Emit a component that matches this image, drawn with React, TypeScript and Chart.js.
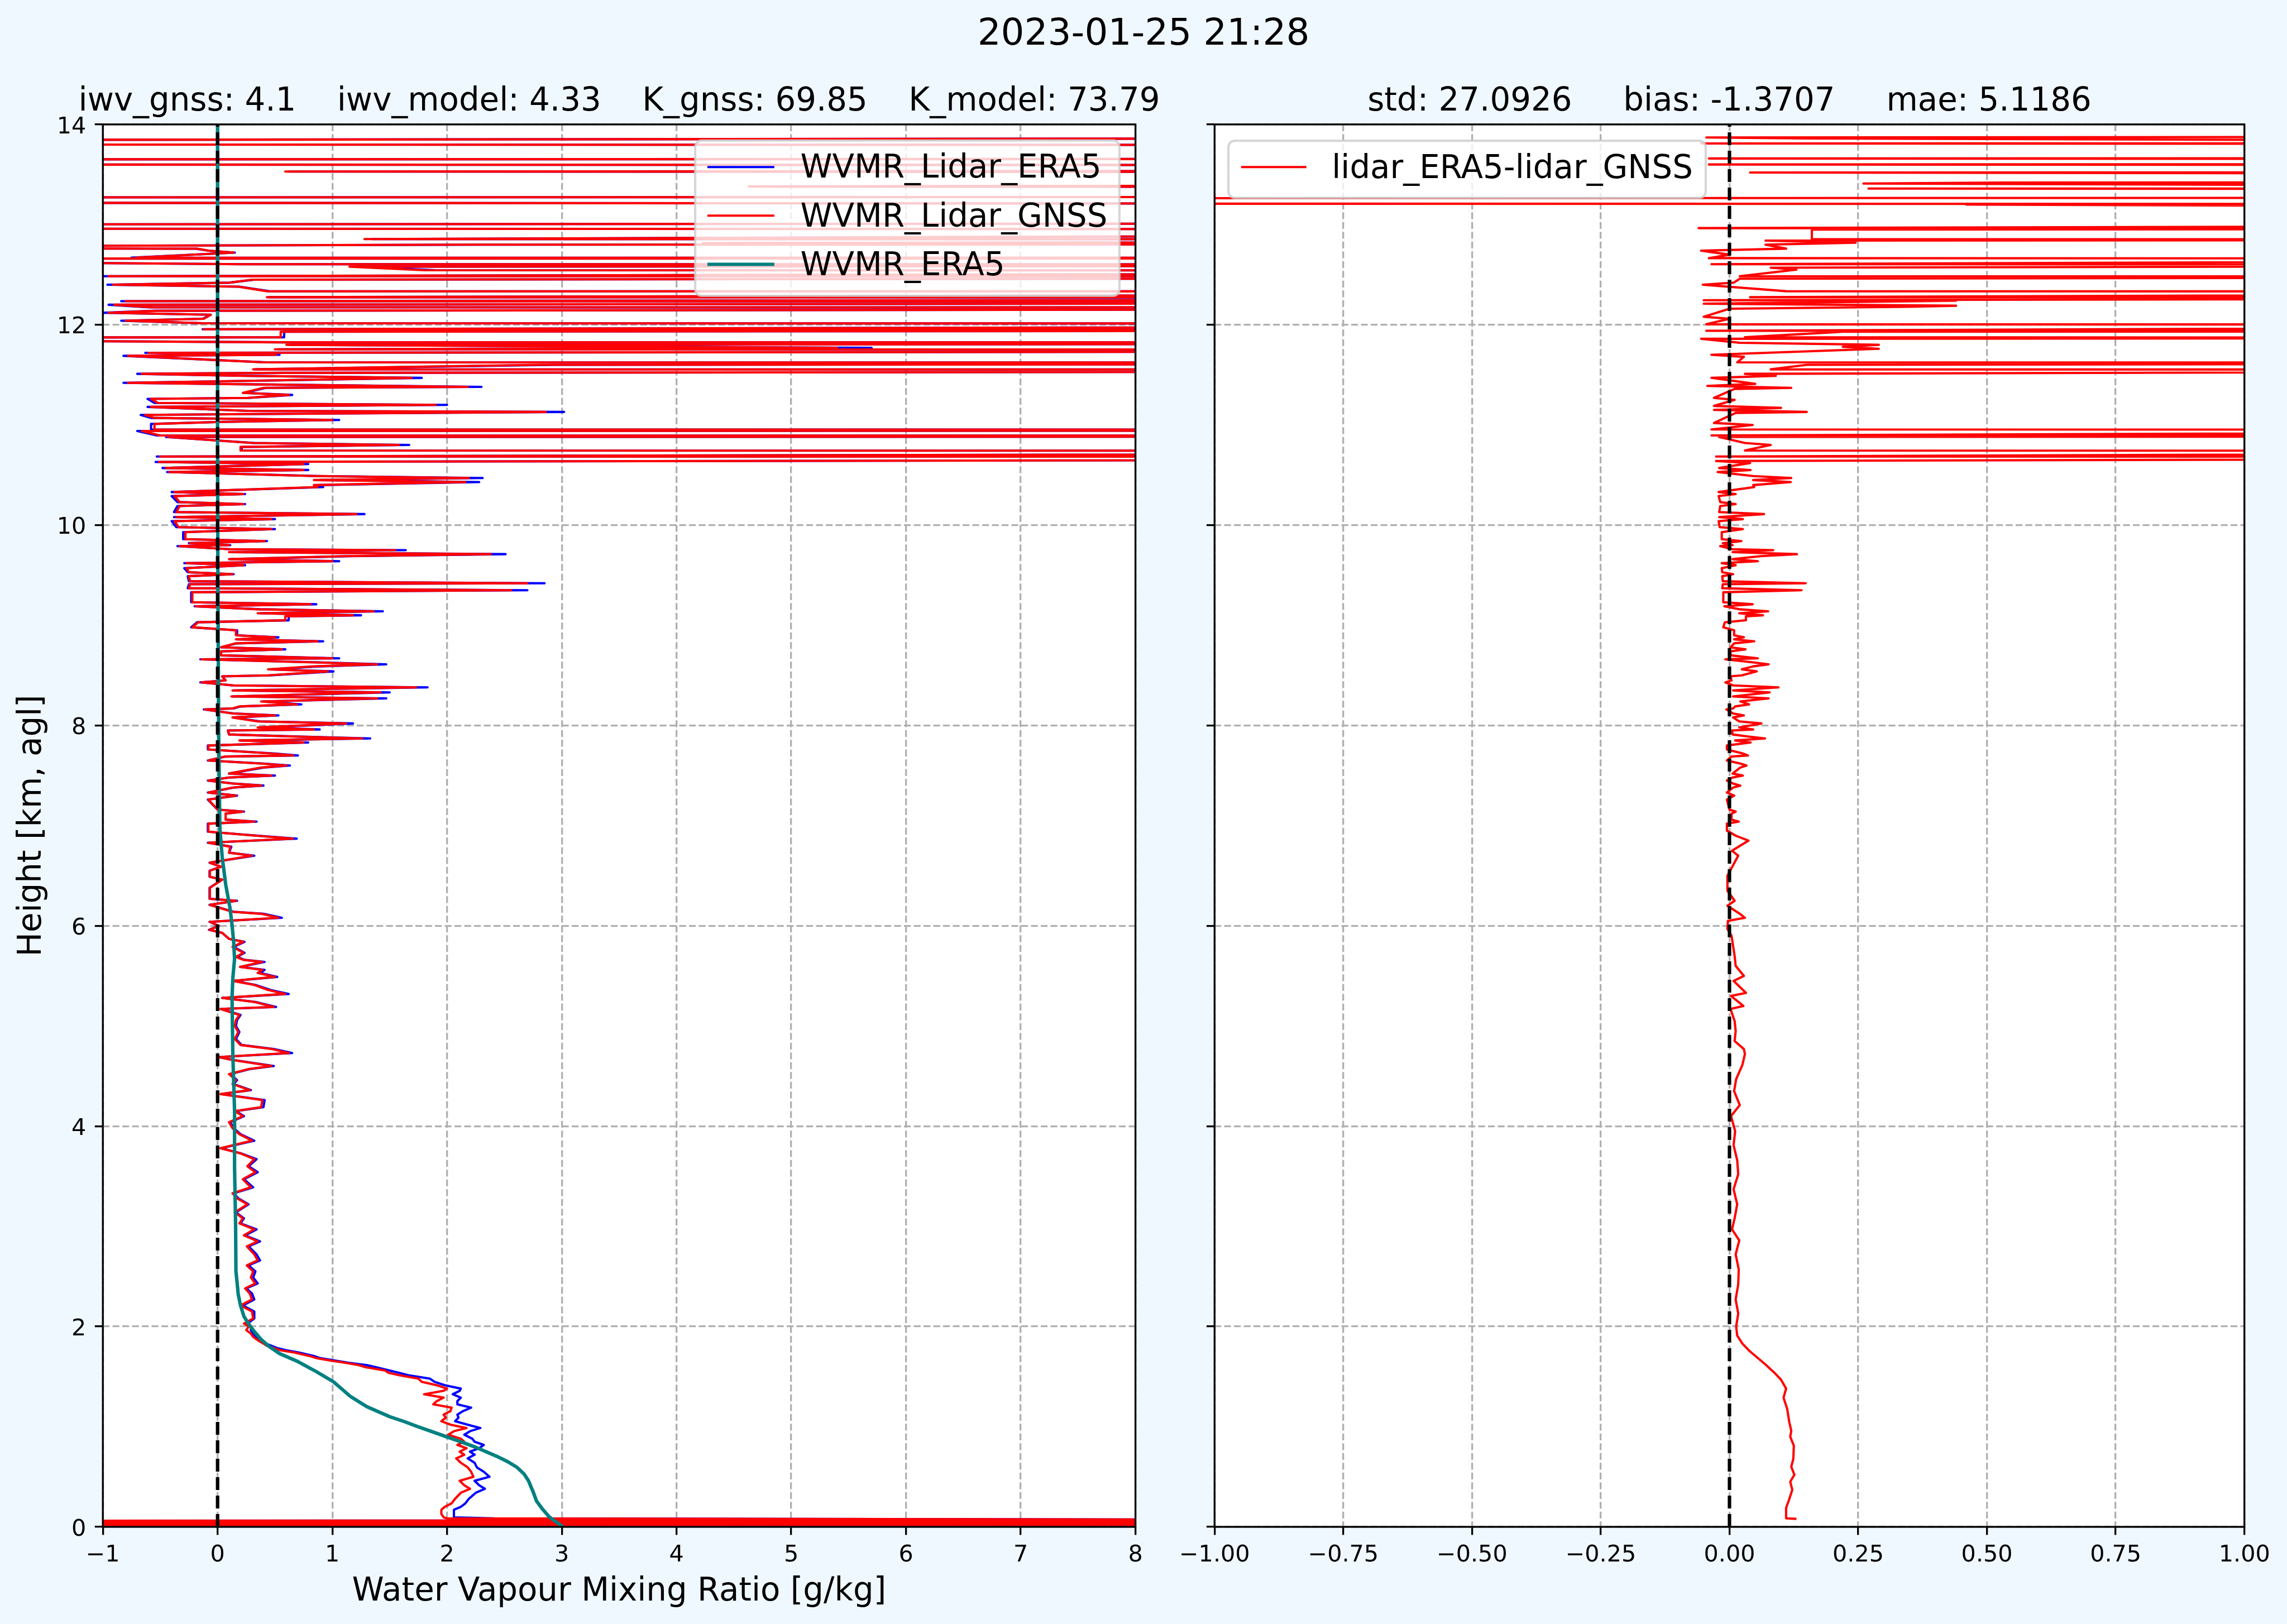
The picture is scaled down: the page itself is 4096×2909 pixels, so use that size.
import React, { useEffect, useRef } from "react";
import { Chart, registerables } from "chart.js";

Chart.register(...registerables);

const FONT = '"DejaVu Sans", sans-serif';

// ---------------- data: [height km, value] ----------------
const wvmrLidarEra5 = [
  [0.015,-4],[0.022,14],[0.03,-5],[0.037,12],[0.045,-3],[0.052,16],[0.06,-2],[0.068,11],[0.085,2.41],
  [0.095,2.06],[0.13,2.06],[0.17,2.06],[0.2,2.12],[0.235,2.16],[0.28,2.19],[0.34,2.25],[0.38,2.33],[0.415,2.28],[0.46,2.24],[0.5,2.37],[0.55,2.32],[0.594,2.26],[0.64,2.24],[0.684,2.18],[0.72,2.24],[0.751,2.2],[0.785,2.28],[0.818,2.32],[0.85,2.24],[0.88,2.22],[0.92,2.15],[0.955,2.2],[0.987,2.29],[1.02,2.18],[1.055,2.07],[1.09,2.1],[1.12,2.09],[1.156,2.14],[1.19,2.21],[1.223,2.09],[1.255,2.09],[1.29,2.12],[1.324,2.05],[1.358,2.11],[1.38,2.12],[1.414,1.98],[1.448,1.89],[1.48,1.85],[1.515,1.66],[1.538,1.58],[1.56,1.5],[1.594,1.38],[1.615,1.3],[1.638,1.14],[1.661,1.02],[1.685,0.89],[1.706,0.84],[1.74,0.71],[1.762,0.6],[1.785,0.52],[1.807,0.47],[1.83,0.42],[1.863,0.38],[1.897,0.33],[1.93,0.31],[1.964,0.29],[2.0,0.29],[2.03,0.26],[2.08,0.32],
  [2.15,0.32],[2.21,0.22],[2.27,0.32],[2.33,0.3],[2.38,0.25],[2.43,0.35],[2.49,0.31],[2.55,0.33],
  [2.61,0.27],[2.66,0.37],[2.72,0.34],[2.8,0.27],[2.85,0.37],[2.91,0.24],[2.97,0.34],[3.03,0.2],[3.08,0.23],[3.14,0.16],[3.22,0.27],[3.28,0.18],[3.33,0.14],[3.39,0.31],[3.47,0.23],[3.54,0.35],[3.6,0.27],[3.67,0.34],[3.73,0.2],[3.78,0.03],[3.855,0.32],[3.92,0.2],[3.98,0.14],[4.04,0.11],[4.1,0.23],[4.15,0.16],[4.19,0.4],[4.26,0.41],[4.32,0.03],[4.36,0.29],[4.42,0.14],[4.46,0.17],[4.52,0.11],[4.57,0.28],[4.6,0.49],[4.66,0.14],[4.69,0.01],[4.73,0.65],[4.77,0.49],[4.81,0.21],[4.87,0.16],[4.94,0.19],[5.0,0.16],[5.06,0.17],[5.11,0.2],[5.17,0.03],[5.19,0.51],[5.24,0.33],[5.28,0.04],[5.32,0.62],[5.36,0.46],[5.41,0.33],[5.45,0.14],[5.49,0.52],[5.53,0.37],[5.56,0.41],[5.59,0.2],[5.64,0.41],[5.66,0.235],[5.69,0.17],[5.73,0.235],[5.79,0.14],[5.84,0.235],[5.87,0.1],[5.93,0.04],[5.96,-0.075],[6.0,0.01],[6.04,-0.07],[6.08,0.56],[6.12,0.4],[6.14,0.14],[6.21,-0.07],[6.25,0.17],[6.27,-0.07],[6.38,-0.07],[6.46,0.04],[6.49,-0.07],[6.55,-0.07],[6.59,0.03],[6.63,-0.07],[6.7,0.32],[6.73,0.1],[6.79,0.12],[6.83,-0.085],[6.87,0.69],[6.91,0.23],[6.94,-0.085],
  [7.02,-0.085],[7.04,0.34],[7.06,0.07],[7.12,0.07],[7.14,0.23],[7.16,0.0],[7.26,-0.085],[7.3,0.17],[7.33,-0.085],[7.38,0.14],[7.4,0.4],[7.42,0.14],[7.45,-0.085],[7.48,0.1],[7.5,0.5],[7.52,0.1],[7.58,0.4],[7.6,0.63],[7.62,0.4],[7.65,-0.085],[7.69,0.07],[7.7,0.7],[7.72,0.5],[7.76,-0.085],[7.8,-0.085],[7.83,0.79],[7.85,0.2],[7.87,1.33],[7.89,0.7],[7.91,0.1],[7.95,0.09],[7.96,0.89],[7.98,0.37],[8.02,1.18],[8.04,0.37],[8.08,0.14],[8.1,0.53],[8.12,0.14],[8.16,-0.12],[8.17,0.14],[8.19,0.2],[8.21,0.73],[8.24,0.4],[8.27,1.47],[8.29,0.13],[8.33,1.5],[8.35,0.14],[8.38,1.83],[8.4,0.14],[8.43,-0.15],[8.45,0.07],[8.49,0.04],[8.5,0.46],[8.54,1.01],[8.56,0.46],[8.59,0.89],[8.61,1.47],[8.63,0.89],[8.66,-0.15],[8.67,1.06],[8.7,0.03],[8.74,0.03],[8.76,0.59],[8.78,0.03],[8.82,0.17],[8.84,0.92],[8.86,0.17],[8.88,0.53],[8.9,0.17],[8.95,0.17],[8.98,-0.23],[9.03,-0.18],[9.05,0.62],[9.09,0.62],[9.1,1.25],[9.12,0.37],[9.14,1.44],[9.16,0.37],[9.19,-0.2],[9.21,0.86],[9.23,-0.23],[9.33,-0.23],[9.35,2.7],[9.37,-0.26],[9.41,-0.25],[9.42,2.85],[9.44,-0.25],[9.49,-0.26],[9.51,0.14],[9.53,-0.26],[9.57,-0.29],[9.6,0.24],[9.62,-0.29],[9.64,1.06],[9.66,0.11],[9.69,1.16],[9.71,2.51],[9.73,0.11],[9.75,1.64],[9.76,0.11],[9.79,-0.35],[9.8,0.11],[9.82,-0.25],[9.84,0.43],[9.86,-0.3],[9.93,-0.3],[9.96,0.5],[9.98,-0.36],[10.04,-0.4],[10.06,0.5],[10.08,-0.38],[10.11,1.28],[10.13,-0.38],[10.19,-0.35],[10.21,0.24],[10.23,-0.35],[10.29,-0.4],[10.31,0.24],[10.33,-0.4],[10.38,0.92],[10.4,0.89],[10.43,2.28],[10.45,0.89],[10.47,2.31],[10.49,0.89],[10.53,-0.44],[10.55,0.79],[10.57,-0.48],[10.61,0.79],[10.63,-0.54],[10.68,25],[10.685,-0.53],[10.74,25],[10.745,0.21],[10.78,0.21],[10.8,1.67],[10.82,0.32],[10.88,-0.45],[10.89,25],[10.895,-0.53],[10.94,-0.7],[10.95,25],[10.955,-0.58],
  [11.01,-0.58],[11.03,0.03],[11.05,1.06],[11.07,-0.58],[11.1,-0.67],[11.11,0.42],[11.13,3.02],[11.14,0.27],[11.18,-0.61],[11.2,2.0],[11.22,-0.55],[11.26,-0.61],[11.27,0.27],[11.3,0.65],[11.32,0.23],[11.37,0.42],[11.38,2.3],[11.4,0.69],[11.42,-0.82],[11.44,0.26],[11.47,1.78],[11.49,0.26],[11.51,-0.7],[11.52,0.58],[11.55,25],[11.555,0.33],[11.6,2.95],[11.62,25],[11.625,0.42],[11.69,-0.82],[11.7,0.54],[11.72,-0.63],[11.75,25],[11.755,0.53],[11.77,5.7],[11.8,0.63],[11.82,25],[11.825,0.58],[11.87,-6],[11.875,0.58],[11.93,0.58],[11.935,4.1],[11.945,25],[11.955,-0.13],[12.01,25],[12.015,-0.13],[12.04,-0.84],[12.06,-0.13],[12.1,-0.06],[12.12,-1.0],[12.14,-0.55],[12.17,25],[12.175,-0.6],[12.2,-0.95],[12.23,25],[12.235,-0.84],[12.27,25],[12.275,0.45],[12.33,25],[12.335,0.45],[12.38,0.19],[12.4,-0.96],[12.42,0.1],[12.45,0.32],[12.48,25],[12.485,-1.0],[12.54,25],[12.545,1.9],[12.58,1.22],[12.6,25],[12.605,0.21],[12.66,-6],[12.665,25],[12.67,-0.75],[12.72,0.15],[12.74,-0.08],[12.76,-0.19],[12.77,-6],[12.8,2.28],[12.81,25],[12.815,4.45],[12.85,25],[12.855,1.35],[12.95,25],[12.96,-6],[13.0,-6],[13.02,25],[13.2,25],[13.22,-6],[13.27,-6],[13.28,25],[13.37,25],[13.38,4.85],[13.42,25],[13.52,25],[13.53,0.62],[13.54,25],[13.59,25],[13.6,-6],[13.65,-6],[13.66,25],[13.79,25],[13.8,-6],[13.84,-6],[13.88,25],[14.2,25],
];

const wvmrLidarGnss = [
  [0.015,-4],[0.022,14],[0.03,-5],[0.037,12],[0.045,-3],[0.052,16],[0.06,-2],[0.068,11],[0.085,2.0],
  [0.095,1.97],[0.13,1.95],[0.17,1.95],[0.2,1.98],[0.235,2.04],[0.28,2.07],[0.34,2.12],[0.38,2.2],[0.415,2.15],[0.46,2.11],[0.5,2.23],[0.55,2.21],[0.594,2.18],[0.64,2.12],[0.684,2.08],[0.72,2.15],[0.751,2.11],[0.785,2.17],[0.818,2.09],[0.85,2.15],[0.88,2.12],[0.92,2.01],[0.955,2.06],[0.987,2.17],[1.02,2.03],[1.055,1.95],[1.09,1.99],[1.12,1.97],[1.156,2.03],[1.19,2.04],[1.223,1.88],[1.255,1.91],[1.29,1.97],[1.324,1.8],[1.358,1.97],[1.38,2.0],[1.414,1.91],[1.448,1.78],[1.48,1.75],[1.515,1.58],[1.538,1.49],[1.56,1.46],[1.594,1.29],[1.615,1.23],[1.638,1.11],[1.661,0.98],[1.685,0.86],[1.706,0.8],[1.74,0.67],[1.762,0.55],[1.785,0.49],[1.807,0.43],[1.83,0.4],[1.863,0.35],[1.897,0.31],[1.93,0.29],[1.964,0.25],[2.0,0.27],[2.03,0.23],[2.08,0.31],
  [2.15,0.3],[2.21,0.2],[2.27,0.3],[2.33,0.28],[2.38,0.24],[2.43,0.33],[2.49,0.29],[2.55,0.31],
  [2.61,0.255],[2.66,0.35],[2.72,0.32],[2.8,0.255],[2.85,0.35],[2.91,0.23],[2.97,0.32],[3.03,0.19],[3.08,0.22],[3.14,0.15],[3.22,0.26],[3.28,0.17],[3.33,0.13],[3.39,0.29],[3.47,0.22],[3.54,0.33],[3.6,0.26],[3.67,0.32],[3.73,0.195],[3.78,0.025],[3.855,0.3],[3.92,0.19],[3.98,0.13],[4.04,0.1],[4.1,0.22],[4.15,0.15],[4.19,0.38],[4.26,0.39],[4.32,0.025],[4.36,0.28],[4.42,0.13],[4.46,0.16],[4.52,0.1],[4.57,0.27],[4.6,0.47],[4.66,0.13],[4.69,0.01],[4.73,0.62],[4.77,0.47],[4.81,0.2],[4.87,0.15],[4.94,0.18],[5.0,0.15],[5.06,0.16],[5.11,0.19],[5.17,0.025],[5.19,0.49],[5.24,0.32],[5.28,0.04],[5.32,0.59],[5.36,0.44],[5.41,0.32],[5.45,0.13],[5.49,0.5],[5.53,0.35],[5.56,0.39],[5.59,0.195],[5.64,0.39],[5.66,0.225],[5.69,0.16],[5.73,0.225],[5.79,0.13],[5.84,0.225],[5.87,0.1],[5.93,0.04],[5.96,-0.07],[6.0,0.01],[6.04,-0.067],[6.08,0.53],[6.12,0.38],[6.14,0.13],[6.21,-0.067],[6.25,0.16],[6.27,-0.067],[6.38,-0.067],[6.46,0.04],[6.49,-0.067],[6.55,-0.067],[6.59,0.03],[6.63,-0.067],[6.7,0.3],[6.73,0.1],[6.79,0.11],[6.83,-0.08],[6.87,0.655],[6.91,0.22],[6.94,-0.08],
  [7.02,-0.08],[7.04,0.32],[7.06,0.07],[7.12,0.07],[7.14,0.22],[7.16,0.0],[7.26,-0.08],[7.3,0.16],[7.33,-0.08],[7.38,0.13],[7.4,0.38],[7.42,0.13],[7.45,-0.08],[7.48,0.1],[7.5,0.47],[7.52,0.1],[7.58,0.38],[7.6,0.6],[7.62,0.38],[7.65,-0.08],[7.69,0.07],[7.7,0.66],[7.72,0.47],[7.76,-0.08],[7.8,-0.08],[7.83,0.75],[7.85,0.19],[7.87,1.26],[7.89,0.66],[7.91,0.1],[7.95,0.09],[7.96,0.84],[7.98,0.35],[8.02,1.12],[8.04,0.35],[8.08,0.13],[8.1,0.5],[8.12,0.13],[8.16,-0.11],[8.17,0.13],[8.19,0.19],[8.21,0.69],[8.24,0.38],[8.27,1.39],[8.29,0.12],[8.33,1.42],[8.35,0.13],[8.38,1.73],[8.4,0.13],[8.43,-0.14],[8.45,0.07],[8.49,0.04],[8.5,0.44],[8.54,0.96],[8.56,0.44],[8.59,0.84],[8.61,1.39],[8.63,0.84],[8.66,-0.14],[8.67,1.0],[8.7,0.03],[8.74,0.03],[8.76,0.56],[8.78,0.03],[8.82,0.16],[8.84,0.87],[8.86,0.16],[8.88,0.5],[8.9,0.16],[8.95,0.16],[8.98,-0.22],[9.03,-0.17],[9.05,0.59],[9.09,0.59],[9.1,1.18],[9.12,0.35],[9.14,1.36],[9.16,0.35],[9.19,-0.19],[9.21,0.81],[9.23,-0.22],[9.33,-0.22],[9.35,2.56],[9.37,-0.25],[9.41,-0.24],[9.42,2.7],[9.44,-0.24],[9.49,-0.25],[9.51,0.13],[9.53,-0.25],[9.57,-0.27],[9.6,0.225],[9.62,-0.27],[9.64,1.0],[9.66,0.1],[9.69,1.1],[9.71,2.38],[9.73,0.1],[9.75,1.55],[9.76,0.1],[9.79,-0.33],[9.8,0.1],[9.82,-0.24],[9.84,0.41],[9.86,-0.28],[9.93,-0.28],[9.96,0.47],[9.98,-0.34],[10.04,-0.375],[10.06,0.47],[10.08,-0.36],[10.11,1.21],[10.13,-0.36],[10.19,-0.33],[10.21,0.225],[10.23,-0.33],[10.29,-0.375],[10.31,0.225],[10.33,-0.375],[10.38,0.87],[10.4,0.84],[10.43,2.16],[10.45,0.84],[10.47,2.19],[10.49,0.84],[10.53,-0.42],[10.55,0.75],[10.57,-0.45],[10.61,0.75],[10.63,-0.51],[10.68,25],[10.685,-0.5],[10.74,25],[10.745,0.2],[10.78,0.2],[10.8,1.58],[10.82,0.3],[10.88,-0.43],[10.89,25],[10.895,-0.5],[10.94,-0.66],[10.95,25],[10.955,-0.55],
  [11.01,-0.55],[11.03,0.03],[11.05,1.0],[11.07,-0.55],[11.1,-0.63],[11.11,0.4],[11.13,2.86],[11.14,0.26],[11.18,-0.58],[11.2,1.9],[11.22,-0.52],[11.26,-0.58],[11.27,0.26],[11.3,0.62],[11.32,0.22],[11.37,0.4],[11.38,2.18],[11.4,0.65],[11.42,-0.78],[11.44,0.25],[11.47,1.69],[11.49,0.25],[11.51,-0.66],[11.52,0.55],[11.55,25],[11.555,0.31],[11.6,2.8],[11.62,25],[11.625,0.4],[11.69,-0.78],[11.7,0.51],[11.72,-0.6],[11.75,25],[11.755,0.5],[11.77,5.4],[11.8,0.6],[11.82,25],[11.825,0.55],[11.87,-6],[11.875,0.55],[11.93,0.55],[11.935,3.9],[11.945,25],[11.955,-0.12],[12.01,25],[12.015,-0.12],[12.04,-0.8],[12.06,-0.12],[12.1,-0.06],[12.12,-0.95],[12.14,-0.52],[12.17,25],[12.175,-0.57],[12.2,-0.9],[12.23,25],[12.235,-0.8],[12.27,25],[12.275,0.43],[12.33,25],[12.335,0.43],[12.38,0.18],[12.4,-0.91],[12.42,0.1],[12.45,0.3],[12.48,25],[12.485,-0.95],[12.54,25],[12.545,1.8],[12.58,1.15],[12.6,25],[12.605,0.2],[12.66,-6],[12.665,25],[12.67,-0.71],[12.72,0.14],[12.74,-0.08],[12.76,-0.18],[12.77,-6],[12.8,2.15],[12.81,25],[12.815,4.23],[12.85,25],[12.855,1.28],[12.95,25],[12.96,-6],[13.0,-6],[13.02,25],[13.2,25],[13.22,-6],[13.27,-6],[13.28,25],[13.37,25],[13.38,4.63],[13.42,25],[13.52,25],[13.53,0.59],[13.54,25],[13.59,25],[13.6,-6],[13.65,-6],[13.66,25],[13.79,25],[13.8,-6],[13.84,-6],[13.88,25],[14.2,25],
];

const wvmrEra5 = [
  [0.0,3.01],[0.05,2.95],[0.1,2.89],[0.18,2.83],[0.257,2.78],[0.35,2.75],[0.46,2.71],[0.53,2.67],[0.594,2.61],[0.65,2.53],[0.706,2.43],[0.75,2.34],[0.797,2.245],[0.85,2.12],[0.897,2.0],[0.95,1.87],[0.998,1.75],[1.05,1.63],[1.1,1.5],[1.2,1.3],[1.3,1.16],[1.448,1.01],[1.55,0.86],[1.65,0.7],[1.73,0.54],[1.8,0.45],[1.87,0.38],[1.95,0.32],[2.01,0.28],[2.1,0.23],[2.21,0.2],[2.32,0.18],[2.44,0.17],[2.55,0.16],[3.02,0.157],[3.59,0.148],[4.15,0.148],[4.71,0.133],[5.28,0.126],[5.48,0.133],[5.67,0.148],[5.84,0.14],[6.01,0.126],[6.18,0.108],[6.41,0.071],[6.69,0.04],[6.97,0.02],[7.88,0.01],[9.36,0.003],[10.84,0.0],[14.0,0.0],
];

const diffLidarEra5Gnss = [
  [0.08,0.13],[0.085,0.11],[0.19,0.11],[0.26,0.115],[0.37,0.122],[0.45,0.118],[0.52,0.126],[0.6,0.12],[0.68,0.124],[0.81,0.125],[0.9,0.118],[0.96,0.12],[1.05,0.116],[1.18,0.112],[1.29,0.105],[1.38,0.11],[1.47,0.1],[1.54,0.087],[1.62,0.07],[1.69,0.054],[1.76,0.038],[1.83,0.025],[1.91,0.015],[2.0,0.013],[2.13,0.017],[2.27,0.012],[2.42,0.017],[2.57,0.018],[2.72,0.012],[2.86,0.019],[2.97,0.005],[3.08,0.01],[3.22,0.015],[3.37,0.008],[3.52,0.017],[3.66,0.015],[3.81,0.008],[3.95,0.011],[4.1,0.003],[4.21,0.02],[4.35,0.009],[4.47,0.013],[4.61,0.025],[4.72,0.03],[4.77,0.028],[4.85,0.01],[4.95,0.012],[5.05,0.01],[5.17,0.002],[5.2,0.027],[5.3,0.003],[5.33,0.032],[5.45,0.008],[5.5,0.028],[5.6,0.012],[5.7,0.01],[5.8,0.007],[5.9,0.004],[5.97,-0.004],[6.05,-0.003],[6.08,0.03],[6.12,0.02],[6.2,-0.004],[6.25,0.01],[6.35,-0.004],[6.5,-0.004],[6.7,0.017],[6.75,0.005],[6.85,0.037],[6.9,0.012],[6.95,-0.005],
  [7.02,-0.005],[7.04,0.018],[7.06,0.004],[7.12,0.004],[7.14,0.012],[7.16,0.0],[7.26,-0.005],[7.3,0.009],[7.33,-0.005],[7.38,0.007],[7.4,0.021],[7.42,0.007],[7.45,-0.005],[7.48,0.006],[7.5,0.026],[7.52,0.006],[7.58,0.021],[7.6,0.033],[7.62,0.021],[7.65,-0.005],[7.69,0.004],[7.7,0.036],[7.72,0.026],[7.76,-0.005],[7.8,-0.005],[7.83,0.041],[7.85,0.011],[7.87,0.069],[7.89,0.036],[7.91,0.006],[7.95,0.005],[7.96,0.046],[7.98,0.019],[8.02,0.062],[8.04,0.019],[8.08,0.007],[8.1,0.028],[8.12,0.007],[8.16,-0.006],[8.17,0.007],[8.19,0.011],[8.21,0.038],[8.24,0.021],[8.27,0.076],[8.29,0.007],[8.33,0.078],[8.35,0.007],[8.38,0.095],[8.4,0.007],[8.43,-0.008],[8.45,0.004],[8.49,0.002],[8.5,0.024],[8.54,0.053],[8.56,0.024],[8.59,0.046],[8.61,0.076],[8.63,0.046],[8.66,-0.008],[8.67,0.055],[8.7,0.002],[8.74,0.002],[8.76,0.031],[8.78,0.002],[8.82,0.009],[8.84,0.048],[8.86,0.009],[8.88,0.028],[8.9,0.009],[8.95,0.009],[8.98,-0.012],[9.03,-0.009],[9.05,0.032],[9.09,0.032],[9.1,0.065],[9.12,0.019],[9.14,0.075],[9.16,0.019],[9.19,-0.01],[9.21,0.045],[9.23,-0.012],[9.33,-0.012],[9.35,0.14],[9.37,-0.014],[9.41,-0.013],[9.42,0.148],[9.44,-0.013],[9.49,-0.014],[9.51,0.007],[9.53,-0.014],[9.57,-0.015],[9.6,0.012],[9.62,-0.015],[9.64,0.055],[9.66,0.006],[9.69,0.06],[9.71,0.131],[9.73,0.006],[9.75,0.085],[9.76,0.006],[9.79,-0.018],[9.8,0.006],[9.82,-0.013],[9.84,0.023],[9.86,-0.015],[9.93,-0.015],[9.96,0.026],[9.98,-0.019],[10.04,-0.021],[10.06,0.026],[10.08,-0.02],[10.11,0.067],[10.13,-0.02],[10.19,-0.018],[10.21,0.012],[10.23,-0.018],[10.29,-0.021],[10.31,0.012],[10.33,-0.021],[10.38,0.048],[10.4,0.046],[10.43,0.119],[10.45,0.046],[10.47,0.12],[10.49,0.046],
  [10.53,-0.023],[10.55,0.041],[10.57,-0.02],[10.62,0.04],[10.64,-0.026],[10.68,3],[10.685,-0.026],[10.74,3],[10.745,0.03],[10.8,0.08],[10.82,0.03],[10.88,-0.02],[10.89,3],[10.895,-0.035],[10.95,3],[10.955,-0.035],[11.0,0.045],[11.02,-0.03],[11.12,0.012],[11.13,0.15],[11.15,-0.03],[11.17,0.1],[11.19,-0.03],[11.25,0.01],[11.27,-0.03],[11.36,0.01],[11.37,0.12],[11.39,-0.043],[11.41,0.05],[11.47,-0.035],[11.49,0.09],[11.51,0.03],[11.55,3],[11.555,0.08],[11.6,0.15],[11.62,3],[11.625,0.015],[11.68,0.028],[11.7,-0.035],[11.76,0.29],[11.78,0.22],[11.8,0.29],[11.82,0.02],[11.86,-0.055],[11.87,3],[11.875,0.03],[11.93,0.22],[11.935,3],[11.94,-0.045],[12.0,3],[12.005,-0.045],[12.06,0.0],[12.08,-0.05],[12.16,0.0],[12.18,0.35],[12.19,0.44],[12.21,-0.05],[12.24,0.44],[12.245,-0.05],[12.27,3],[12.275,0.04],[12.33,3],[12.335,0.11],[12.4,-0.052],[12.42,0.008],[12.46,0.02],[12.48,3],[12.485,0.02],[12.55,0.13],[12.57,0.08],[12.6,3],[12.605,-0.035],[12.66,3],[12.665,-0.04],[12.7,0.0],[12.74,-0.055],[12.76,0.11],[12.8,0.07],[12.82,0.245],[12.84,0.07],[12.85,3],[12.855,0.16],[12.95,0.16],[12.96,3],[12.965,-0.06],[13.0,3],[13.15,3],[13.2,0.46],[13.205,3],[13.21,-3],[13.26,-3],[13.27,3],[13.35,3],[13.36,0.27],[13.365,3],[13.41,0.26],[13.42,0.53],[13.425,3],[13.5,3],[13.52,0.04],[13.525,3],[13.59,3],[13.6,-0.04],[13.605,3],[13.65,3],[13.66,-0.04],[13.665,3],[13.8,3],[13.81,-0.055],[13.815,3],[13.86,0.15],[13.87,-0.045],[13.88,3],[14.2,3],
];

const zeroLine = [[0, 0], [14, 0]];

const leftXTicks = [-1, 0, 1, 2, 3, 4, 5, 6, 7, 8];
const rightXTicks = [-1, -0.75, -0.5, -0.25, 0, 0.25, 0.5, 0.75, 1];
const heightTicks = [0, 2, 4, 6, 8, 10, 12, 14];

const suptitleText = "2023-01-25 21:28";
const leftTitle = "iwv_gnss: 4.1    iwv_model: 4.33    K_gnss: 69.85    K_model: 73.79";
const rightTitle = "std: 27.0926     bias: -1.3707     mae: 5.1186";
const xLabel = "Water Vapour Mixing Ratio [g/kg]";
const yLabel = "Height [km, agl]";

// ---------------- helpers ----------------
const toXY = (pairs) => pairs.map(([h, v]) => ({ x: v, y: h }));
const minus = (s) => s.replace("-", "\u2212");

const TICK_FONT = { family: FONT, size: 41.3 };
const LABEL_FONT = { family: FONT, size: 57.8, weight: "normal", lineHeight: 1.2 };

function lineDs(label, pairs, color, width, order, extra = {}) {
  return {
    label,
    data: toXY(pairs),
    showLine: true,
    borderColor: color,
    backgroundColor: color,
    borderWidth: width,
    pointRadius: 0,
    pointHoverRadius: 0,
    fill: false,
    tension: 0,
    borderJoinStyle: "round",
    order,
    ...extra,
  };
}

function decorPlugin(legend) {
  return {
    id: "decor",
    beforeDraw(chart) {
      const { ctx, chartArea: a } = chart;
      ctx.save();
      ctx.fillStyle = "#ffffff";
      ctx.fillRect(a.left, a.top, a.right - a.left, a.bottom - a.top);
      ctx.restore();
    },
    afterDatasetsDraw(chart) {
      const { ctx, chartArea: a } = chart;
      ctx.save();
      ctx.setLineDash([]);
      ctx.strokeStyle = "#000000";
      ctx.lineWidth = 3.3;
      ctx.strokeRect(a.left, a.top, a.right - a.left, a.bottom - a.top);
      // legend frame
      const { x0, y0, x1, y1, r } = legend.box;
      ctx.beginPath();
      ctx.moveTo(x0 + r, y0);
      ctx.arcTo(x1, y0, x1, y1, r);
      ctx.arcTo(x1, y1, x0, y1, r);
      ctx.arcTo(x0, y1, x0, y0, r);
      ctx.arcTo(x0, y0, x1, y0, r);
      ctx.closePath();
      ctx.fillStyle = "rgba(255,255,255,0.8)";
      ctx.fill();
      ctx.lineWidth = 4.1;
      ctx.strokeStyle = "rgba(204,204,204,0.8)";
      ctx.stroke();
      ctx.font = `57.8px ${FONT}`;
      ctx.textAlign = "left";
      ctx.textBaseline = "alphabetic";
      legend.rows.forEach((row) => {
        const ds = chart.data.datasets[row.index];
        ctx.beginPath();
        ctx.strokeStyle = ds.borderColor;
        ctx.lineWidth = ds.borderWidth;
        ctx.lineCap = "butt";
        ctx.moveTo(legend.lineX0, row.lineY);
        ctx.lineTo(legend.lineX1, row.lineY);
        ctx.stroke();
        ctx.fillStyle = "#000000";
        ctx.fillText(ds.label, legend.textX, row.baseline);
      });
      ctx.restore();
    },
  };
}

function xScale(min, max, ticks, fmt, title, height) {
  return {
    type: "linear",
    position: "bottom",
    min,
    max,
    afterBuildTicks: (s) => {
      s.ticks = ticks.map((v) => ({ value: v }));
    },
    ticks: {
      autoSkip: false,
      maxRotation: 0,
      minRotation: 0,
      padding: 12,
      color: "#000000",
      font: TICK_FONT,
      callback: (v) => fmt(v),
    },
    grid: {
      color: "#b0b0b0",
      lineWidth: 3.3,
      drawTicks: true,
      tickLength: 14.4,
      tickColor: "#000000",
      tickWidth: 3.3,
    },
    border: { display: false, dash: [12.2, 5.3] },
    title: title
      ? { display: true, text: title, color: "#000000", font: LABEL_FONT, padding: { top: 0, bottom: 22.1 } }
      : { display: false },
    afterFit: (s) => {
      s.height = height;
    },
  };
}

function yScale(showLabels, width) {
  return {
    type: "linear",
    position: "left",
    min: 0,
    max: 14,
    afterBuildTicks: (s) => {
      s.ticks = heightTicks.map((v) => ({ value: v }));
    },
    ticks: {
      display: showLabels,
      autoSkip: false,
      padding: 15.5,
      labelOffset: 5,
      color: "#000000",
      font: TICK_FONT,
      callback: (v) => String(v),
    },
    grid: {
      color: "#b0b0b0",
      lineWidth: 3.3,
      drawTicks: true,
      tickLength: 14.4,
      tickColor: "#000000",
      tickWidth: 3.3,
    },
    border: { display: false, dash: [12.2, 5.3] },
    title: showLabels
      ? { display: true, text: yLabel, color: "#000000", font: LABEL_FONT, padding: { top: 23.6, bottom: 0 } }
      : { display: false },
    afterFit: (s) => {
      s.width = width;
    },
  };
}

function baseOptions(title, titleFull, padRight) {
  return {
    responsive: false,
    maintainAspectRatio: false,
    animation: false,
    devicePixelRatio: 1,
    events: [],
    layout: { padding: { left: 0, top: 0, right: padRight, bottom: 0 } },
    plugins: {
      legend: { display: false },
      tooltip: { enabled: false },
      title: {
        display: true,
        text: title,
        fullSize: titleFull,
        color: "#000000",
        font: LABEL_FONT,
        padding: { top: 148.4, bottom: 5.1 },
      },
    },
  };
}

function leftConfig() {
  const opts = baseOptions(leftTitle, true, 0);
  opts.scales = {
    x: xScale(-1, 8, leftXTicks, (v) => minus(String(v)), xLabel, 174),
    y: yScale(true, 184.2),
    yPad: {
      type: "linear",
      position: "right",
      display: true,
      ticks: { display: false },
      grid: { display: false, drawTicks: false },
      border: { display: false },
      afterFit: (s) => {
        s.width = 184.4;
      },
    },
  };
  return {
    type: "scatter",
    data: {
      datasets: [
        lineDs("WVMR_Lidar_ERA5", wvmrLidarEra5, "#0000ff", 4.1, 4),
        lineDs("WVMR_Lidar_GNSS", wvmrLidarGnss, "#ff0000", 4.1, 3),
        lineDs("WVMR_ERA5", wvmrEra5, "#008080", 6.2, 2),
        lineDs("zero", zeroLine, "#000000", 6.2, 1, { borderDash: [23, 10], borderJoinStyle: "miter" }),
      ],
    },
    options: opts,
    plugins: [
      decorPlugin({
        box: { x0: 1245.1, y0: 251.6, x1: 2004.9, y1: 530.0, r: 11.5 },
        lineX0: 1266.9,
        lineX1: 1386.8,
        textX: 1433.4,
        rows: [
          { index: 0, lineY: 299.2, baseline: 318.4 },
          { index: 1, lineY: 386.3, baseline: 405.6 },
          { index: 2, lineY: 473.5, baseline: 492.8 },
        ],
      }),
    ],
  };
}

function rightConfig() {
  const opts = baseOptions(rightTitle, false, 76.3);
  opts.scales = {
    x: xScale(-1, 1, rightXTicks, (v) => minus(Number(v).toFixed(2)), null, 174),
    y: yScale(false, 71.3),
  };
  return {
    type: "scatter",
    data: {
      datasets: [
        lineDs("lidar_ERA5-lidar_GNSS", diffLidarEra5Gnss, "#ff0000", 4.1, 2),
        lineDs("zero", zeroLine, "#000000", 6.2, 1, { borderDash: [23, 10], borderJoinStyle: "miter" }),
      ],
    },
    options: opts,
    plugins: [
      decorPlugin({
        box: { x0: 100.1, y0: 252.1, x1: 954.9, y1: 354.6, r: 11.5 },
        lineX0: 122.8,
        lineX1: 239.7,
        textX: 285.3,
        rows: [{ index: 0, lineY: 299.2, baseline: 319.3 }],
      }),
    ],
  };
}

export default function App() {
  const leftRef = useRef(null);
  const rightRef = useRef(null);

  useEffect(() => {
    const c1 = new Chart(leftRef.current, leftConfig());
    const c2 = new Chart(rightRef.current, rightConfig());
    return () => {
      c1.destroy();
      c2.destroy();
    };
  }, []);

  return (
    <div
      style={{
        position: "fixed",
        left: 0,
        top: 0,
        width: 4096,
        height: 2909,
        background: "#f0f8ff",
        overflow: "hidden",
      }}
    >
      <div
        style={{
          position: "absolute",
          left: 0,
          top: 25.35,
          width: 4096,
          textAlign: "center",
          fontFamily: FONT,
          fontSize: 66,
          lineHeight: "66px",
          color: "#000",
          whiteSpace: "pre",
        }}
      >
        {suptitleText}
      </div>
      <canvas
        ref={leftRef}
        width={2218}
        height={2909}
        style={{ position: "absolute", left: 0, top: 0, width: 2218, height: 2909 }}
      />
      <canvas
        ref={rightRef}
        width={1996}
        height={2909}
        style={{ position: "absolute", left: 2100, top: 0, width: 1996, height: 2909 }}
      />
    </div>
  );
}
